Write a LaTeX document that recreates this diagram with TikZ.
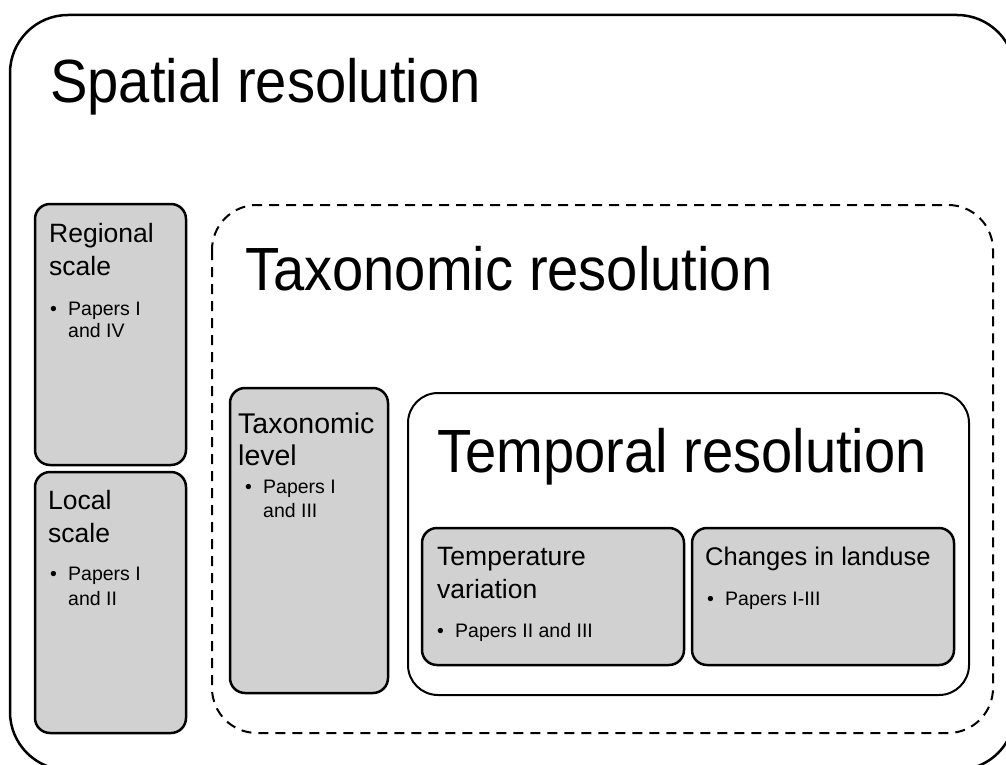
\documentclass[tikz,border=0pt]{standalone}
\usepackage{fontspec}
\setmainfont{Liberation Sans}
\newfontfamily\bigfont{Liberation Sans}[FakeStretch=0.92]
\definecolor{boxgray}{RGB}{209,209,209}
\begin{document}
\begin{tikzpicture}[x=1pt,y=-1pt,
  outerbox/.style={draw=black, line width=2.5pt, rounded corners=58pt},
  dashbox/.style={draw=black, line width=2pt, dash pattern=on 10pt off 7pt, rounded corners=45pt},
  tempbox/.style={draw=black, line width=2pt, rounded corners=30pt, fill=white},
  gbox/.style={draw=black, line width=2.5pt, rounded corners=15pt, fill=boxgray},
  bigtitle/.style={anchor=base west, inner sep=0pt, font=\bigfont\fontsize{61}{70}\selectfont},
  smalltitle/.style={anchor=base west, inner sep=0pt, font=\fontsize{26.5}{31}\selectfont},
  bul/.style={anchor=base west, inner sep=0pt, font=\fontsize{19.5}{23}\selectfont}
]
\useasboundingbox (0,0) rectangle (1006,765);
\clip (0,0) rectangle (1006,765);

% outer spatial box
\draw[outerbox] (10,15) rectangle (1015,770);
\node[bigtitle] (spatialT) at (50,103) {Spatial resolution};

% regional / local
\node[gbox, minimum width=151pt, minimum height=261pt] (regional) at (110.5,334.5) {};
\node[smalltitle] (regT1) at (49,242) {Regional};
\node[smalltitle] (regT2) at (49,275) {scale};
\node[bul] (regB) at (50,315) {\textbullet};
\node[bul] (regP1) at (68,315) {Papers I};
\node[bul] (regP2) at (68,337) {and IV};

\node[gbox, minimum width=151pt, minimum height=261pt] (local) at (110.5,602.5) {};
\node[smalltitle] (locT1) at (48,509) {Local};
\node[smalltitle] (locT2) at (48,542) {scale};
\node[bul] (locB) at (50,580) {\textbullet};
\node[bul] (locP1) at (68,580) {Papers I};
\node[bul] (locP2) at (68,605) {and II};

% taxonomic dashed box
\draw[dashbox] (212,205) rectangle (993,733);
\node[bigtitle] (taxT) at (245,290) {Taxonomic resolution};

\node[gbox, minimum width=158pt, minimum height=305pt] (taxlevel) at (309,540.5) {};
\node[smalltitle, font=\fontsize{28.5}{33}\selectfont] (taxL1) at (238,433) {Taxonomic};
\node[smalltitle, font=\fontsize{28.5}{33}\selectfont] (taxL2) at (238,465) {level};
\node[bul] (taxB) at (245,493) {\textbullet};
\node[bul] (taxP1) at (263,493) {Papers I};
\node[bul] (taxP2) at (263,517) {and III};

% temporal box
\draw[tempbox] (408,393) rectangle (969,695);
\node[bigtitle] (tempT) at (437,472) {Temporal resolution};

\node[gbox, minimum width=262pt, minimum height=137pt] (tempvar) at (553,596.5) {};
\node[smalltitle] (tvT1) at (437,565) {Temperature};
\node[smalltitle] (tvT2) at (437,598) {variation};
\node[bul] (tvB) at (437,637) {\textbullet};
\node[bul] (tvP) at (455,637) {Papers II and III};

\node[gbox, minimum width=262pt, minimum height=137pt] (landuse) at (823,596.5) {};
\node[smalltitle, font=\fontsize{25.5}{30}\selectfont] (luT) at (705,565) {Changes in landuse};
\node[bul] (luB) at (707,605) {\textbullet};
\node[bul] (luP) at (725,605) {Papers I-III};
\end{tikzpicture}
\end{document}
